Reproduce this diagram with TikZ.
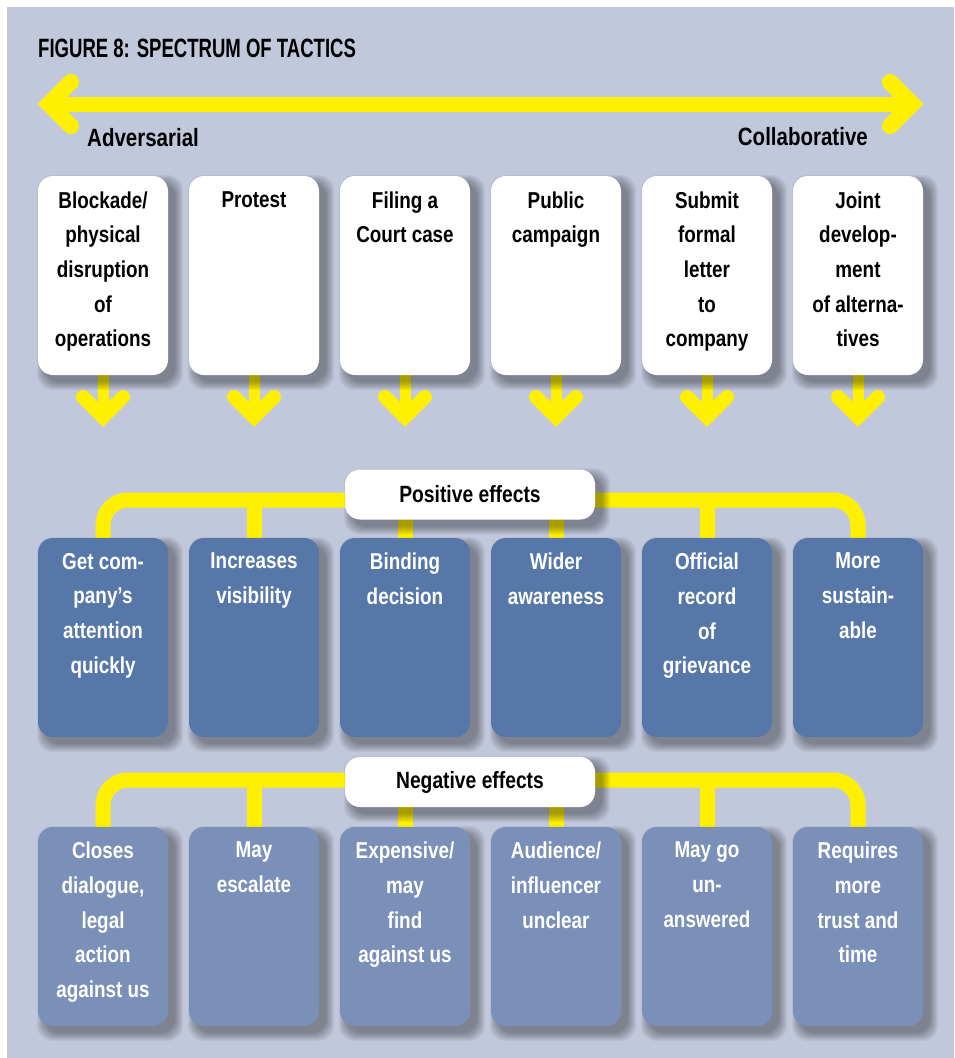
\documentclass[tikz,border=0pt]{standalone}
\usepackage{fontspec}
\newfontfamily\tfont[FakeStretch=0.82]{Liberation Sans}
\newfontfamily\titlefont[FakeStretch=0.70]{Liberation Sans}
\usetikzlibrary{calc}
\definecolor{bg}{HTML}{C2C8DC}
\definecolor{yel}{HTML}{FFF000}
\definecolor{posblue}{HTML}{5677A8}
\definecolor{negblue}{HTML}{7A90B9}
\pgfdeclarelayer{bgl}
\pgfdeclarelayer{back}
\pgfdeclarelayer{shadl}
\pgfsetlayers{bgl,back,shadl,main}
\newcommand\myshadow[1]{%
  \begin{pgfonlayer}{shadl}
  \foreach \k in {0,...,8}{%
    \fill[black,opacity=0.042,rounded corners=16pt]
      ($(#1.south west)+(7-\k,7+\k)$) rectangle ($(#1.north east)+(7+\k,7-\k)$);
  }
  \end{pgfonlayer}}
\begin{document}
\begin{tikzpicture}[x=1pt,y=-1pt,
  tbox/.style={fill=white, rounded corners=15pt, minimum width=130pt, minimum height=199pt, inner sep=0pt},
  pbox/.style={tbox, fill=posblue},
  nbox/.style={tbox, fill=negblue},
  lbox/.style={fill=white, rounded corners=15pt, minimum width=250pt, minimum height=50pt, inner sep=0pt, font=\tfont\bfseries\fontsize{23.5}{28}\selectfont},
  btxt/.style={font=\tfont\bfseries\fontsize{23}{34.7}\selectfont, align=center, inner sep=0pt, anchor=north},
  hdr/.style={font=\tfont\bfseries\fontsize{25}{30}\selectfont, inner sep=0pt},
  ylw/.style={draw=yel, line width=15pt},
  shaft/.style={draw=yel, line width=15pt},
  chev/.style={draw=yel, line width=16pt, line cap=round, line join=miter},
  dstem/.style={draw=yel, line width=11pt},
  dchev/.style={draw=yel, line width=14pt, line cap=round, line join=miter}
]
\useasboundingbox (0,0) rectangle (954,1058);
\begin{pgfonlayer}{bgl}
\fill[white] (0,0) rectangle (954,1058);
\fill[bg] (7,7) rectangle (954,1058);
\end{pgfonlayer}

% title and ends
\node[font=\titlefont\bfseries\fontsize{26.5}{30}\selectfont, inner sep=0pt, anchor=base west] (title) at (38,57) {FIGURE 8: SPECTRUM OF TACTICS};
\node[hdr, anchor=base west] (adv) at (87,146) {Adversarial};
\node[hdr, anchor=base east] (col) at (868,145) {Collaborative};

% double arrow
\coordinate (L) at (49,104);
\coordinate (R) at (912,104);
\coordinate (Lu) at (71,82);
\coordinate (Ld) at (71,126);
\coordinate (Ru) at (890,82);
\coordinate (Rd) at (890,126);
\draw[shaft] (L) -- (R);
\draw[chev] (Lu) -- (L) -- (Ld);
\draw[chev] (Ru) -- (R) -- (Rd);

% boxes
\foreach \i/\cx/\tt/\pt/\nt in {
  1/103/{Blockade/\\physical\\disruption\\of\\operations}/{Get com-\\pany’s\\attention\\quickly}/{Closes\\dialogue,\\legal\\action\\against us},
  2/254/{Protest}/{Increases\\visibility}/{May\\escalate},
  3/405/{Filing a\\Court case}/{Binding\\decision}/{Expensive/\\may\\find\\against us},
  4/556/{Public\\campaign}/{Wider\\awareness}/{Audience/\\influencer\\unclear},
  5/707/{Submit\\formal\\letter\\to\\company}/{Official\\record\\of\\grievance}/{May go\\un-\\answered},
  6/858/{Joint\\develop-\\ment\\of alterna-\\tives}/{More\\sustain-\\able}/{Requires\\more\\trust and\\time}}{
  \node[tbox] (t\i) at (\cx,275.5) {};
  \node[btxt] (tt\i) at ([yshift=-15.5pt]t\i.north) {\tt};
  \node[pbox] (p\i) at (\cx,637.5) {};
  \node[btxt, text=white] (pt\i) at ([yshift=-15pt]p\i.north) {\pt};
  \node[nbox] (n\i) at (\cx,926.5) {};
  \node[btxt, text=white] (nt\i) at ([yshift=-15pt]n\i.north) {\nt};
  \myshadow{t\i}
  \myshadow{p\i}
  \myshadow{n\i}
  \coordinate (tip\i) at (\cx,417);
  \coordinate (tipl\i) at (\cx-20,397);
  \coordinate (tipr\i) at (\cx+20,397);
  \begin{pgfonlayer}{back}
    \draw[dstem] (t\i.south) -- (tip\i);
    \draw[dchev] (tipl\i) -- (tip\i) -- (tipr\i);
  \end{pgfonlayer}
}

% effect labels
\node[lbox] (pos) at (470,494.5) {Positive effects};
\node[lbox] (neg) at (470,782) {Negative effects};
\myshadow{pos}
\myshadow{neg}
\coordinate (pbar) at (470,500);
\coordinate (nbar) at (470,780);
\begin{pgfonlayer}{back}
  \draw[ylw, rounded corners=25pt] (p1.north) |- (pbar) -| (p6.north);
  \draw[ylw, rounded corners=25pt] (n1.north) |- (nbar) -| (n6.north);
  \foreach \i in {2,...,5}{
    \draw[ylw] (p\i.north) -- (p\i.north |- pbar);
    \draw[ylw] (n\i.north) -- (n\i.north |- nbar);
  }
\end{pgfonlayer}
\end{tikzpicture}
\end{document}
